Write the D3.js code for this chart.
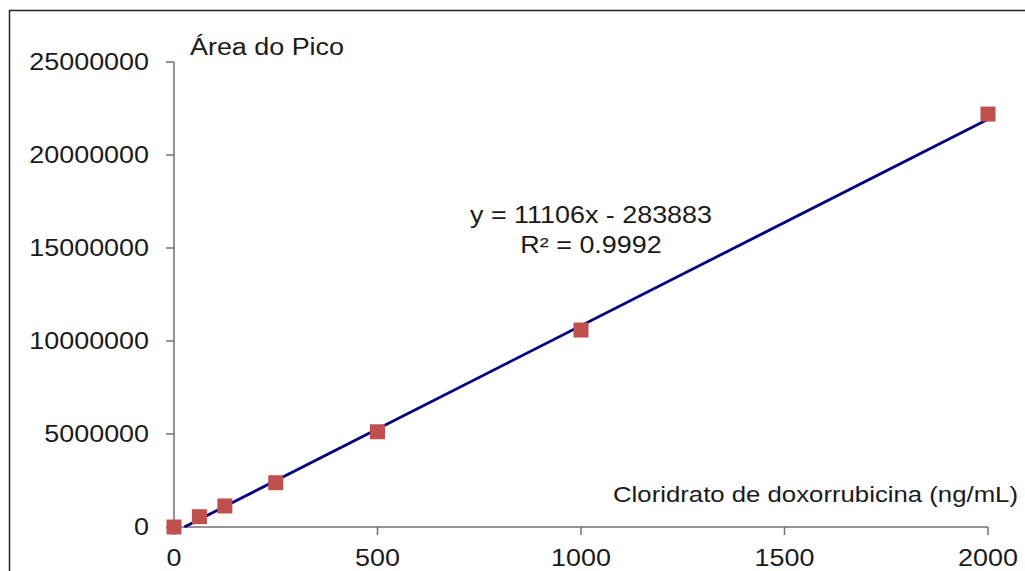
<!DOCTYPE html>
<html>
<head>
<meta charset="utf-8">
<script src="https://cdn.jsdelivr.net/npm/d3@7"></script>
<style>
  body { margin: 0; background: #fff; }
  text { font-family: "Liberation Sans", Arial, sans-serif; fill: #1a1a1a; }
</style>
</head>
<body>
<script>
// calibration data
const concentrations = [0, 62.5, 125, 250, 500, 1000, 2000];
const peakAreas = [0, 554000, 1130000, 2380000, 5120000, 10590000, 22200000];
const xTicks = [0, 500, 1000, 1500, 2000];
const yTicks = [0, 5000000, 10000000, 15000000, 20000000, 25000000];
const slope = 11106;
const intercept = -283883;
const equationLines = ["y = 11106x - 283883", "R² = 0.9992"];

const width = 1025, height = 571;
const sx = 1.17; // the picture is a bit stretched sideways

const svg = d3.select("body")
  .append("svg")
  .attr("width", width)
  .attr("height", height);

// outer frame
svg.append("rect")
  .attr("x", 9.5).attr("y", 10.5)
  .attr("width", 1100).attr("height", 700)
  .attr("fill", "none")
  .attr("stroke", "#222")
  .attr("stroke-width", 1.5);

const x = d3.scaleLinear().domain([0, 2000]).range([174, 988]);
const y = d3.scaleLinear().domain([0, 25000000]).range([527, 62]);

const axisColor = "#707070";

// y axis
svg.append("line")
  .attr("x1", x(0)).attr("x2", x(0))
  .attr("y1", y(25000000)).attr("y2", y(0))
  .attr("stroke", axisColor).attr("stroke-width", 1.5);

svg.selectAll(".ytick")
  .data(yTicks)
  .enter()
  .append("line")
  .attr("x1", x(0) - 8).attr("x2", x(0))
  .attr("y1", d => y(d)).attr("y2", d => y(d))
  .attr("stroke", axisColor).attr("stroke-width", 1.5);

svg.selectAll(".ylabel")
  .data(yTicks)
  .enter()
  .append("text")
  .attr("transform", d => `translate(149, ${y(d) + 8}) scale(${sx},1)`)
  .attr("text-anchor", "end")
  .style("font-size", "23px")
  .text(d => d);

// x axis
svg.append("line")
  .attr("x1", x(0)).attr("x2", x(2000))
  .attr("y1", y(0)).attr("y2", y(0))
  .attr("stroke", axisColor).attr("stroke-width", 1.5);

svg.selectAll(".xtick")
  .data(xTicks)
  .enter()
  .append("line")
  .attr("x1", d => x(d)).attr("x2", d => x(d))
  .attr("y1", y(0)).attr("y2", y(0) + 8)
  .attr("stroke", axisColor).attr("stroke-width", 1.5);

svg.selectAll(".xlabel")
  .data(xTicks)
  .enter()
  .append("text")
  .attr("transform", d => `translate(${x(d)}, 566) scale(${sx},1)`)
  .attr("text-anchor", "middle")
  .style("font-size", "23px")
  .text(d => d);

// axis titles
svg.append("text")
  .attr("transform", `translate(190, 55) scale(${sx},1)`)
  .style("font-size", "23px")
  .text("Área do Pico");

svg.append("text")
  .attr("transform", `translate(613, 502) scale(1.12,1)`)
  .style("font-size", "23px")
  .text("Cloridrato de doxorrubicina (ng/mL)");

// trend line (clipped at y = 0)
const x0 = -intercept / slope;
svg.append("line")
  .attr("x1", x(x0)).attr("y1", y(0))
  .attr("x2", x(2000)).attr("y2", y(slope * 2000 + intercept))
  .attr("stroke", "#000080")
  .attr("stroke-width", 2.8);

// markers
svg.selectAll(".pt")
  .data(concentrations)
  .enter()
  .append("rect")
  .attr("x", d => x(d) - 7.5)
  .attr("y", (d, i) => y(peakAreas[i]) - 7.5)
  .attr("width", 15).attr("height", 15)
  .attr("fill", "#C0504D");

// equation
svg.selectAll(".eq")
  .data(equationLines)
  .enter()
  .append("text")
  .attr("transform", (d, i) => `translate(591, ${223 + i * 30}) scale(${sx},1)`)
  .attr("text-anchor", "middle")
  .style("font-size", "23px")
  .text(d => d);
</script>
</body>
</html>
